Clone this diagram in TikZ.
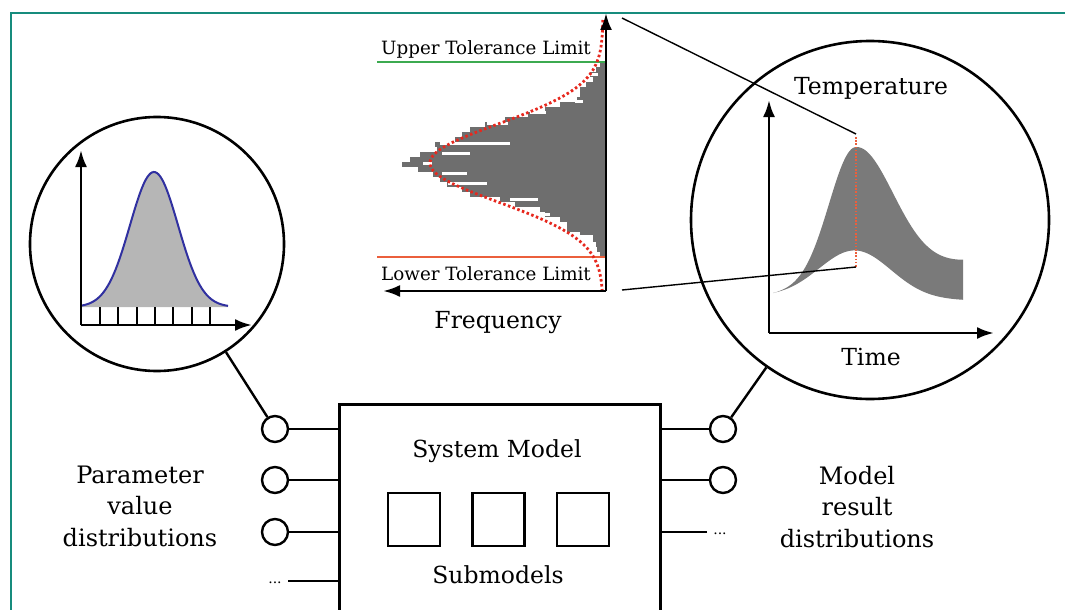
\documentclass[tikz,border=0pt]{standalone}
\usepackage{fontspec}
\setmainfont{DejaVu Serif}
\usetikzlibrary{arrows.meta}
\definecolor{frameteal}{RGB}{22,140,125}
\definecolor{histgray}{RGB}{110,110,110}
\definecolor{bandgray}{RGB}{122,122,122}
\definecolor{gaussfill}{RGB}{182,182,182}
\definecolor{gaussblue}{RGB}{48,48,160}
\definecolor{uplimit}{RGB}{60,170,80}
\definecolor{lowlimit}{RGB}{235,95,60}
\definecolor{fitred}{RGB}{230,40,30}
\begin{document}
\begin{tikzpicture}[x=1pt,y=-1pt,
  axis/.style={line width=2.8pt,-{Latex[length=17pt,width=12pt]}},
  lens/.style={circle,draw,line width=2.6pt,inner sep=0pt},
  port/.style={circle,draw,line width=2.4pt,minimum size=26pt,inner sep=0pt,fill=white},
  wire/.style={line width=2.8pt},
  lead/.style={line width=2.4pt},
  zoomline/.style={line width=1.4pt},
  subbox/.style={draw,line width=2.6pt,minimum width=52pt,minimum height=53pt,inner sep=0pt},
  bigtext/.style={font=\fontsize{23.5}{31.5}\selectfont,inner sep=0pt},
  sidetext/.style={font=\fontsize{24}{31.5}\selectfont,inner sep=0pt,align=center},
  limtext/.style={font=\fontsize{18.3}{20}\selectfont,inner sep=0pt},
  dots/.style={font=\fontsize{14}{14}\selectfont,inner sep=0pt}
]
\useasboundingbox (0,0) rectangle (1065,610);
\clip (0,0) rectangle (1065,610);

% outer frame
\draw[frameteal,line width=2.2pt] (1065,13) -- (11,13) -- (11,612);

% ---------- input distribution lens ----------
\node[lens,minimum size=254pt] (zoomL) at (157,244) {};
\fill[gaussfill] (81,307) -- plot[domain=81:228,samples=90] (\x,{307-135*exp(-((\x-154)/24)^2/2)}) -- (228,307) -- cycle;
\draw[gaussblue,line width=2pt] plot[domain=81:228,samples=90] (\x,{307-135*exp(-((\x-154)/24)^2/2)});
\foreach \tx in {100,118,137,155,173,192,210}
  \draw[line width=2.4pt] (\tx,307) -- (\tx,325);
\coordinate (gO) at (81,325);
\draw[axis] (gO) -- (81,150);
\draw[axis] (gO) -- (252,325);

% ---------- histogram of results ----------
\foreach \yt/\xl in {62/600,67/596,72/590,77/593,82/586,87/580,92/580,97/577,102/560,107/545,
  112/528,117/505,122/485,127/470,132/462,137/455,142/435,147/437,152/420,157/410,162/402,
  167/418,172/433,177/440,182/447,187/462,192/470,197/500,202/515,207/540,212/545,217/560,
  222/567,227/567,232/580,237/593,242/596,247/597,252/600}
  \fill[histgray] (\xl,\yt) rectangle (606,{\yt+5});
\foreach \ys/\xa/\xb in {73/590/598,100/575/583,111/530/546,122/487/508,142/440/510,152/442/470,
  162/423/432,172/442/467,182/448/487,198/510/538,213/540/550,235/567/593}
  \fill[white] (\xa,\ys) rectangle (\xb,{\ys+2.6});
\draw[uplimit,line width=2.2pt] (377,62) -- (606,62);
\draw[lowlimit,line width=2.2pt] (377,257) -- (606,257);
\draw[fitred,line width=2.8pt,dash pattern=on 2.5pt off 2.5pt]
  plot[domain=20:290,samples=120] ({603-173*exp(-((\x-163)/39)^2/2)},\x);
\coordinate (hO) at (606,291);
\draw[axis] (hO) -- (606,13);
\draw[axis] (hO) -- (383,291);
\coordinate (histTop) at (622,18);
\coordinate (histBot) at (622,290);
\node[limtext,anchor=base] (upl) at (486,55) {Upper Tolerance Limit};
\node[limtext,anchor=base] (lowl) at (486,280) {Lower Tolerance Limit};
\node[bigtext,anchor=base] (freq) at (498,328) {Frequency};

% ---------- output distribution lens ----------
\node[lens,minimum size=358pt] (zoomR) at (870,220) {};
\fill[bandgray]
  plot[domain=773:963,samples=120]
    (\x,{294-0.168*(\x-773)-133*exp(-((\x-855)/((\x<855)?26:38))^2/2)})
  -- plot[domain=963:773,samples=120]
    (\x,{296.5+0.02*(\x-773)-47.7*exp(-((\x-855)/36)^2/2)})
  -- cycle;
\coordinate (tO) at (769,333);
\draw[axis] (tO) -- (769,100);
\draw[axis] (tO) -- (994,333);
\coordinate (tempTop) at (856,134);
\coordinate (tempBot) at (856,267);
\draw[lowlimit,line width=1.8pt,dash pattern=on 1.6pt off 1.6pt] (856,137) -- (tempBot);
\draw[zoomline] (histTop) -- (tempTop);
\draw[zoomline] (histBot) -- (tempBot);
\node[bigtext,anchor=base] (temp) at (871,94) {Temperature};
\node[bigtext,anchor=base] (time) at (871,365) {Time};

% ---------- system model ----------
\node[draw,line width=2.8pt,minimum width=321pt,minimum height=240pt,anchor=north west,inner sep=0pt] (sys) at (338,403) {};
\node[bigtext,anchor=base] (systitle) at (497,457) {System Model};
\node[subbox] (sm1) at (414,519.5) {};
\node[subbox] (sm2) at (498.5,519.5) {};
\node[subbox] (sm3) at (583,519.5) {};
\node[bigtext,anchor=base] (sublabel) at (498,583) {Submodels};

% input ports
\node[port] (pL1) at (275,429) {};
\node[port] (pL2) at (275,480) {};
\node[port] (pL3) at (275,532) {};
\coordinate (pL4) at (288,581);
\node[dots,anchor=base] (dL) at (275,583) {...};
\foreach \p in {pL1,pL2,pL3}
  \draw[wire] (\p) -- (\p -| sys.west);
\draw[wire] (pL4) -- (pL4 -| sys.west);

% output ports
\node[port] (pR1) at (723,429) {};
\node[port] (pR2) at (723,480) {};
\coordinate (pR3) at (707,532);
\node[dots,anchor=base] (dR) at (720,534) {...};
\foreach \p in {pR1,pR2}
  \draw[wire] (\p) -- (\p -| sys.east);
\draw[wire] (pR3) -- (pR3 -| sys.east);

% lens leads
\draw[lead] (zoomL) -- (pL1);
\draw[lead] (zoomR) -- (pR1);

% side captions
\node[sidetext,anchor=base] (inlabel) at (140,546) {Parameter\\value\\distributions};
\node[sidetext,anchor=base] (outlabel) at (857,547) {Model\\result\\distributions};
\end{tikzpicture}
\end{document}
